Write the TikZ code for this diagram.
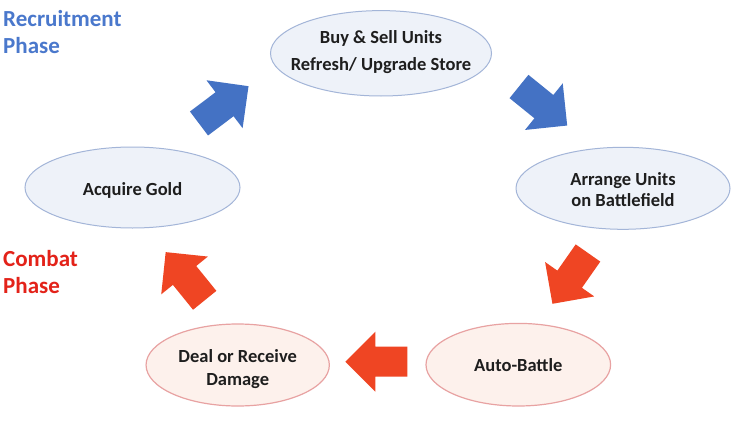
\documentclass[tikz,border=0pt]{standalone}
\usepackage{fontspec}
\setmainfont{Carlito}
\usetikzlibrary{shapes.geometric}
\definecolor{bluefill}{HTML}{EEF2F9}
\definecolor{blueline}{HTML}{A3B5D8}
\definecolor{redfill}{HTML}{FDF1EC}
\definecolor{redline}{HTML}{E8A2A2}
\definecolor{bluearr}{HTML}{4472C4}
\definecolor{redarr}{HTML}{EF4523}
\definecolor{bluetxt}{HTML}{4A78CC}
\definecolor{redtxt}{HTML}{E32219}
\definecolor{ink}{HTML}{1E1E1E}
\begin{document}
\begin{tikzpicture}[x=1pt,y=-1pt,
  phase/.style={ellipse, inner sep=0pt},
  bluephase/.style={phase, draw=blueline, fill=bluefill, line width=1pt},
  redphase/.style={phase, draw=redline, fill=redfill, line width=1.2pt},
  ltext/.style={text=ink, align=center, inner sep=0pt, font=\fontsize{18.5}{#1}\selectfont\bfseries},
  ltext/.default=22,
  phasetxt/.style={align=left, inner sep=0pt, anchor=base west, font=\fontsize{23}{27.3}\selectfont\bfseries},
  pics/blockarrow/.style={code={
    \fill[#1] (0,-15) -- (32,-15) -- (32,-30) -- (62,0) -- (32,30) -- (32,15) -- (0,15) -- cycle;}}
]
\useasboundingbox (0,0) rectangle (750,434);
\fill[white] (0,0) rectangle (750,434);

% phase ellipses
\node[bluephase, minimum width=221pt, minimum height=85.4pt,
  label={[ltext=27.3, yshift=1pt]center:{Buy \& Sell Units\\Refresh/ Upgrade Store}}]
  (buy) at (381,53.3) {};
\node[bluephase, minimum width=215pt, minimum height=81pt,
  label={[ltext, yshift=-3pt]center:{Acquire Gold}}]
  (gold) at (132.5,187.5) {};
\node[bluephase, minimum width=214pt, minimum height=82pt,
  label={[ltext=21, yshift=-1pt]center:{Arrange Units\\on Battlefield}}]
  (arrange) at (623,188.3) {};
\node[redphase, minimum width=183.3pt, minimum height=82pt,
  label={[ltext=22.7, yshift=-4pt]center:{Deal or Receive\\Damage}}]
  (deal) at (237.7,365) {};
\node[redphase, minimum width=184.6pt, minimum height=82.6pt,
  label={[ltext]center:{Auto-Battle}}]
  (auto) at (518.3,364.7) {};

% phase titles (anchored at the baseline of the last line)
\node[phasetxt, text=bluetxt] (recr) at (3,53.3) {Recruitment\\Phase};
\node[phasetxt, text=redtxt] (comb) at (3,293.3) {Combat\\Phase};

% block arrows
\pic[rotate=37] at (199,123.5) {blockarrow=bluearr};
\pic[rotate=-39] at (519,86.5) {blockarrow=bluearr};
\pic[rotate=235] at (588,253) {blockarrow=redarr};
\pic[rotate=180] at (407.3,361.7) {blockarrow=redarr};
\pic[rotate=129] at (204.7,300.3) {blockarrow=redarr};
\end{tikzpicture}
\end{document}
